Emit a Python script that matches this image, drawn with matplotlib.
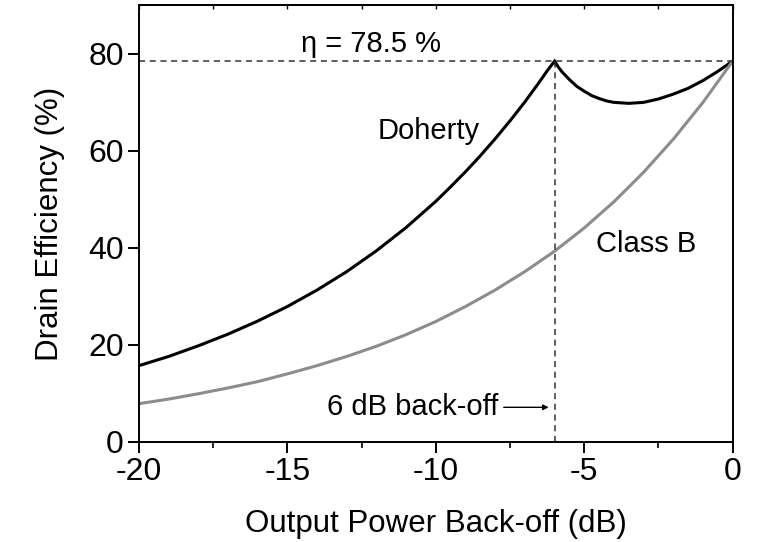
import matplotlib
matplotlib.use('Agg')
import matplotlib.pyplot as plt
from matplotlib.ticker import MultipleLocator

plt.rcParams['font.family'] = ['Liberation Sans', 'DejaVu Sans']

# values
backoff_low = [-20, -19, -18, -17, -16, -15, -14, -13, -12, -11, -10, -9.5, -9,
               -8.5, -8, -7.5, -7, -6.5, -6.25, -6]
backoff_high = [-6, -5.875, -5.75, -5.5, -5.25, -5, -4.75, -4.5, -4.25, -4, -3.5, -3,
                -2.5, -2, -1.5, -1, -0.5, 0]
backoff_all = [-20, -19, -18, -17, -16, -15, -14, -13, -12, -11, -10, -9, -8, -7,
               -6, -5, -4, -3, -2, -1, 0]

doherty_low = [15.7, 17.6, 19.8, 22.2, 24.9, 27.9, 31.3, 35.1, 39.4, 44.2, 49.6,
               52.6, 55.7, 59.0, 62.5, 66.2, 70.1, 74.3, 76.5, 78.5]
doherty_high = [78.5, 77.3, 76.3, 74.7, 73.3, 72.3, 71.4, 70.8, 70.3, 70.0, 69.8, 70.0,
                70.7, 71.7, 72.9, 74.5, 76.4, 78.5]
class_b = [7.85, 8.8, 9.9, 11.1, 12.4, 14.0, 15.7, 17.6, 19.7, 22.1, 24.8, 27.9,
           31.3, 35.1, 39.3, 44.1, 49.5, 55.6, 62.4, 70.0, 78.5]

eta_max = 78.5
backoff_point = -6

fig = plt.figure(figsize=(7.6, 5.42), dpi=100)
ax = fig.add_axes([0.183, 0.185, 0.781, 0.805])

ax.plot(backoff_low + backoff_high[1:], doherty_low + doherty_high[1:],
        color='black', lw=2.2, solid_joinstyle='miter')
ax.plot(backoff_all, class_b, color='#8c8c8c', lw=2.2)

ax.plot([-20, 0], [eta_max, eta_max], color='#333333', lw=1.1, ls=(0, (4, 3)))
ax.plot([backoff_point, backoff_point], [0, eta_max], color='#333333', lw=1.1,
        ls=(0, (4, 3)))

ax.text(-12.2, 82, 'η = 78.5 %', fontsize=21, ha='center', va='center')
ax.text(-11.95, 64, 'Doherty', fontsize=21, ha='left', va='center')
ax.text(-4.6, 40.8, 'Class B', fontsize=21, ha='left', va='center')
ax.annotate('6 dB back-off', xy=(-6.2, 7.1), xytext=(-7.9, 7.1), fontsize=21,
            ha='right', va='center',
            arrowprops=dict(arrowstyle='-|>', color='black', lw=1.0,
                            mutation_scale=8, shrinkA=2, shrinkB=0))

ax.set_xlim(-20, 0)
ax.set_ylim(0, 90)
ax.set_xticks([-20, -15, -10, -5, 0])
ax.set_xticklabels(['-20', '-15', '-10', '-5', '0'])
ax.set_yticks([0, 20, 40, 60, 80])
ax.xaxis.set_minor_locator(MultipleLocator(2.5))

ax.tick_params(axis='both', which='major', direction='out', length=8, width=1.4,
               labelsize=23, pad=3)
ax.tick_params(axis='x', which='minor', direction='out', length=4.5, width=1.2)
ax.tick_params(axis='x', which='both', top=False)

# inward ticks on the top spine
top = ax.secondary_xaxis('top')
top.set_xticks([-20, -15, -10, -5, 0])
top.xaxis.set_minor_locator(MultipleLocator(2.5))
top.tick_params(which='both', direction='in', length=3, width=1.0, labeltop=False)

for s in ax.spines.values():
    s.set_linewidth(1.4)
top.spines['top'].set_linewidth(1.4)

ax.set_xlabel('Output Power Back-off (dB)', fontsize=22.5, labelpad=16)
ax.set_ylabel('Drain Efficiency (%)', fontsize=22.5, labelpad=17)

fig.savefig('out.png', dpi=100)
